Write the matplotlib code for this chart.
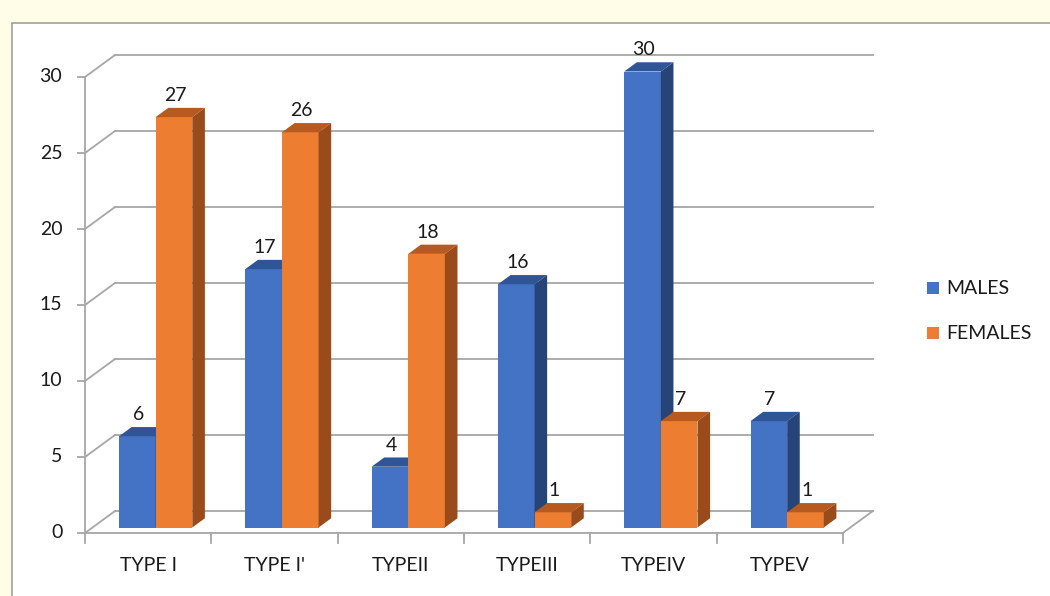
import matplotlib
matplotlib.use('Agg')
from matplotlib import pyplot as plt
from matplotlib.patches import Polygon, Rectangle

categories = ['TYPE I', "TYPE I'", 'TYPEII', 'TYPEIII', 'TYPEIV', 'TYPEV']
males = [6, 17, 4, 16, 30, 7]
females = [27, 26, 18, 1, 7, 1]
y_ticks = [0, 5, 10, 15, 20, 25, 30]

# colours (front, top, side)
male_cols = ('#4472C4', '#2F5597', '#264478')
female_cols = ('#ED7D31', '#B65A1F', '#9A4B1B')
grid_col = '#A6A6A6'
text_col = '#1A1A1A'

plt.rcParams['font.family'] = ['Lato', 'DejaVu Sans']

# pixel layout of the "front" plane: one category = 126.3 px, one unit = 15.2 px
X0_PX, CAT_PX, Y0_PX, UNIT_PX = 85, 126.3, 533, 15.2
W_PX, H_PX = 1050, 596
DX = 30 / CAT_PX      # depth offset (full depth) in data units
DY = 22 / UNIT_PX
D0 = 0.25             # depth where bar fronts sit
DB = 0.42             # bar depth
BW = 0.29             # bar width

fig = plt.figure(figsize=(W_PX / 100, H_PX / 100), dpi=100)
fig.patch.set_facecolor('#FFFCE8')

ax = fig.add_axes([0, 0, 1, 1])
ax.set_xlim(-X0_PX / CAT_PX, (W_PX - X0_PX) / CAT_PX)
ax.set_ylim((Y0_PX - H_PX) / UNIT_PX, Y0_PX / UNIT_PX)
ax.axis('off')
ax.patch.set_alpha(0)
# white chart area with grey border
ax.add_patch(Rectangle((12 / W_PX, -0.01), 1.0, 1 - 23 / H_PX + 0.01,
                       transform=ax.transAxes, facecolor='white',
                       edgecolor='#A0A0A0', lw=1.2, zorder=0, clip_on=False))

n = len(categories)
lw = 1.3

# back wall gridlines + left wall diagonals
for t in y_ticks:
    ax.plot([DX, n + DX], [t + DY, t + DY], color=grid_col, lw=lw, zorder=1)
    ax.plot([0, DX], [t, t + DY], color=grid_col, lw=lw, zorder=1)
    ax.plot([-0.055, 0], [t, t], color=grid_col, lw=lw, zorder=1)
    ax.text(-0.18, t, str(t), ha='right', va='center', fontsize=14, color=text_col)

# front vertical axis, floor edges
ax.plot([0, 0], [0, y_ticks[-1]], color=grid_col, lw=lw, zorder=1)
ax.plot([0, n], [0, 0], color=grid_col, lw=lw, zorder=1)
ax.plot([n, n + DX], [0, DY], color=grid_col, lw=lw, zorder=1)
for i in range(n + 1):
    ax.plot([i, i], [0, -0.65], color=grid_col, lw=lw, zorder=1)

sx, sy = D0 * DX, D0 * DY
ddx, ddy = DB * DX, DB * DY


def bar3d(left, val, cols):
    ax.bar(left, val, width=BW, bottom=sy, align='edge', color=cols[0], lw=0, zorder=3)
    top = sy + val
    ax.add_patch(Polygon([(left, top), (left + BW, top), (left + BW + ddx, top + ddy),
                          (left + ddx, top + ddy)], closed=True, facecolor=cols[1],
                         lw=0, zorder=3))
    ax.add_patch(Polygon([(left + BW, sy), (left + BW + ddx, sy + ddy),
                          (left + BW + ddx, top + ddy), (left + BW, top)], closed=True,
                         facecolor=cols[2], lw=0, zorder=3))
    ax.text(left + BW / 2 + 0.01, top + ddy + 0.25, str(val), ha='center', va='bottom',
            fontsize=14, color=text_col, zorder=5)


for i, cat in enumerate(categories):
    c = i + 0.5
    bar3d(c - BW + sx, males[i], male_cols)
    bar3d(c + sx, females[i], female_cols)
    ax.text(c, -2.15, cat, ha='center', va='center', fontsize=14, color=text_col)

# legend
for lbl, col, yy in [('MALES', male_cols[0], 16.1), ('FEMALES', female_cols[0], 13.15)]:
    ax.add_patch(Rectangle((6.665, yy - 0.4), 12 / CAT_PX, 12 / UNIT_PX,
                           facecolor=col, lw=0))
    ax.text(6.82, yy, lbl, ha='left', va='center', fontsize=14, color=text_col)

fig.savefig('out.png', dpi=100, facecolor=fig.get_facecolor())
